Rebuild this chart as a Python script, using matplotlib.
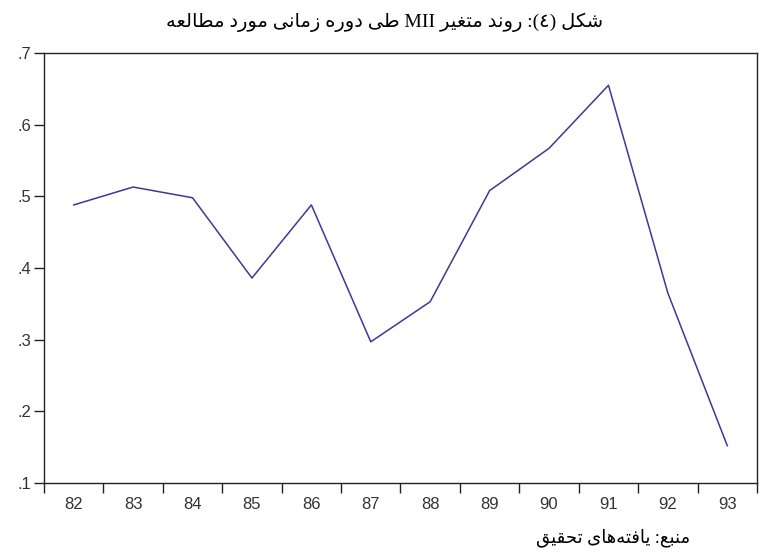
import re

import matplotlib
matplotlib.use("Agg")
import matplotlib.pyplot as plt

# Datos del gráfico
years = [82, 83, 84, 85, 86, 87, 88, 89, 90, 91, 92, 93]
mii = [0.488, 0.513, 0.498, 0.386, 0.488, 0.297, 0.353, 0.508, 0.567, 0.655, 0.365, 0.152]
y_ticks = [0.1, 0.2, 0.3, 0.4, 0.5, 0.6, 0.7]
y_labels = ['.1', '.2', '.3', '.4', '.5', '.6', '.7']

title_text = 'شکل (٤): روند متغیر MII طی دوره زمانی مورد مطالعه'
source_text = 'منبع: یافته\u200cهای تحقیق'

# Formas de presentación: aislada, final, inicial, media
FORMS = {
    'ا': ('\uFE8D', '\uFE8E', None, None),
    'ب': ('\uFE8F', '\uFE90', '\uFE91', '\uFE92'),
    'ت': ('\uFE95', '\uFE96', '\uFE97', '\uFE98'),
    'ح': ('\uFEA1', '\uFEA2', '\uFEA3', '\uFEA4'),
    'د': ('\uFEA9', '\uFEAA', None, None),
    'ر': ('\uFEAD', '\uFEAE', None, None),
    'ز': ('\uFEAF', '\uFEB0', None, None),
    'ش': ('\uFEB5', '\uFEB6', '\uFEB7', '\uFEB8'),
    'ط': ('\uFEC1', '\uFEC2', '\uFEC3', '\uFEC4'),
    'ع': ('\uFEC9', '\uFECA', '\uFECB', '\uFECC'),
    'غ': ('\uFECD', '\uFECE', '\uFECF', '\uFED0'),
    'ف': ('\uFED1', '\uFED2', '\uFED3', '\uFED4'),
    'ق': ('\uFED5', '\uFED6', '\uFED7', '\uFED8'),
    'ل': ('\uFEDD', '\uFEDE', '\uFEDF', '\uFEE0'),
    'م': ('\uFEE1', '\uFEE2', '\uFEE3', '\uFEE4'),
    'ن': ('\uFEE5', '\uFEE6', '\uFEE7', '\uFEE8'),
    'ه': ('\uFEE9', '\uFEEA', '\uFEEB', '\uFEEC'),
    'و': ('\uFEED', '\uFEEE', None, None),
    'ک': ('\uFB8E', '\uFB8F', '\uFB90', '\uFB91'),
    'ی': ('\uFBFC', '\uFBFD', '\uFBFE', '\uFBFF'),
}
RIGHT_ONLY = set('ادذرزژو')
MIRROR = {'(': ')', ')': '('}


def shape_word(word):
    chars = list(word)
    out = []
    for i, c in enumerate(chars):
        if c not in FORMS:
            out.append(c)
            continue
        prev = chars[i - 1] if i > 0 else None
        nxt = chars[i + 1] if i + 1 < len(chars) else None
        join_prev = prev in FORMS and prev not in RIGHT_ONLY
        join_next = nxt in FORMS and c not in RIGHT_ONLY
        iso, fin, ini, med = FORMS[c]
        if join_prev and join_next:
            out.append(med)
        elif join_prev:
            out.append(fin)
        elif join_next:
            out.append(ini)
        else:
            out.append(iso)
    out = [c for c in out if c != '\u200c']
    return ''.join(reversed(out))


# Orden visual de derecha a izquierda
def persian(text):
    runs = re.findall('[\u0621-\u064A\u06A9\u06CC\u200c]+|[A-Za-z0-9\u0660-\u0669]+|.', text)
    out = []
    for r in reversed(runs):
        if re.match('[\u0621-\u064A\u06A9\u06CC]', r):
            out.append(shape_word(r))
        elif len(r) == 1:
            out.append(MIRROR.get(r, r))
        else:
            out.append(r)
    return ''.join(out)


fig = plt.figure(figsize=(7.69, 5.54), dpi=100)
ax = fig.add_axes([0.0572, 0.1282, 0.9272, 0.7761])

ax.plot(years, mii, color='#3a3a96', linewidth=1.1)

ax.set_xlim(81.5, 93.5)
ax.set_ylim(0.1, 0.7)

# Marcas entre años, etiquetas en el centro
ax.set_xticks([y - 0.5 for y in years] + [years[-1] + 0.5])
ax.set_xticklabels([])
ax.set_xticks(years, minor=True)
ax.set_xticklabels([str(y) for y in years], minor=True)
ax.tick_params(axis='x', which='major', direction='out', length=7, width=1, color='#222222')
ax.tick_params(axis='x', which='minor', length=0, pad=10, labelsize=12, labelcolor='#333333')

ax.set_yticks(y_ticks)
ax.set_yticklabels(y_labels)
ax.tick_params(axis='y', direction='out', length=7, width=1, pad=2, labelsize=12,
               labelcolor='#333333', color='#222222')

for s in ax.spines.values():
    s.set_color('#222222')
    s.set_linewidth(1.0)

for lbl in ax.get_xticklabels(minor=True) + ax.get_yticklabels():
    lbl.set_family(['Liberation Sans', 'DejaVu Sans'])

fig.text(0.5, 0.977, persian(title_text), ha='center', va='top', fontsize=14,
         family=['Liberation Serif', 'DejaVu Sans'])
fig.text(0.898, 0.012, persian(source_text), ha='right', va='bottom', fontsize=13,
         family=['Liberation Serif', 'DejaVu Sans'])

fig.savefig('out.png', dpi=100)
